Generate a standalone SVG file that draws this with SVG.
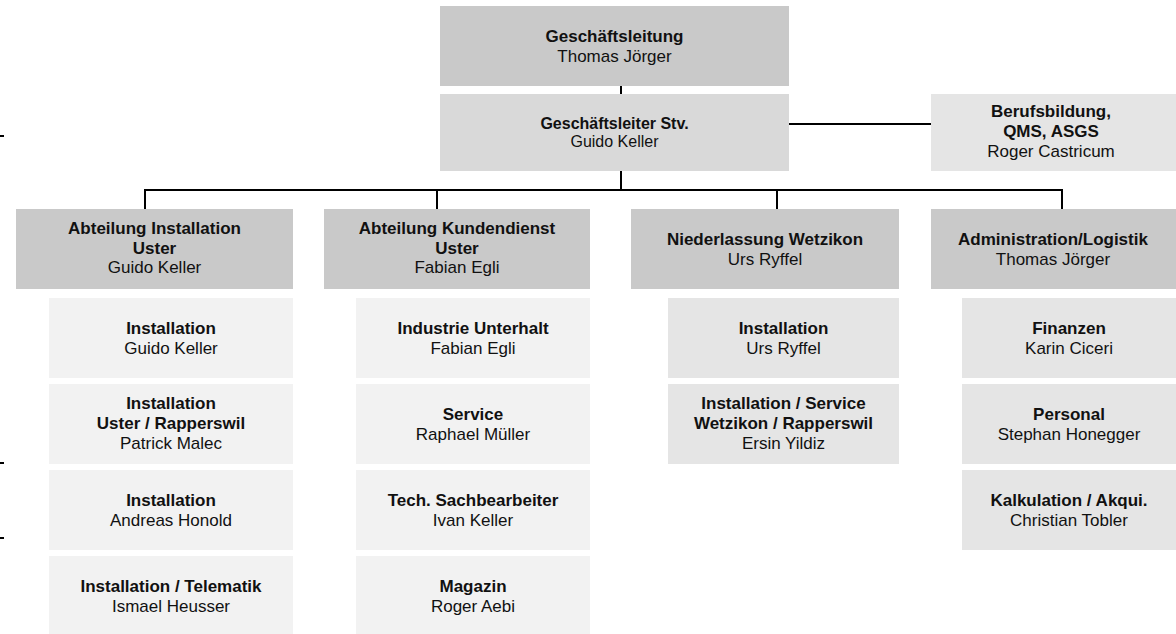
<svg xmlns="http://www.w3.org/2000/svg" width="1176" height="634" viewBox="0 0 1176 634">
<style>
text{font-family:"Liberation Sans",Arial,sans-serif;font-size:17px;fill:#111;text-anchor:middle}
.b{font-weight:bold}
.s{font-size:16px}
.l{stroke:#000;stroke-width:2;fill:none}
.c1{fill:#c9c9c9}
.c2{fill:#d9d9d9}
.c3{fill:#e5e5e5}
.c4{fill:#f2f2f2}
</style>
<rect width="1176" height="634" fill="#fff"/>
<g id="connectors">
<path class="l" d="M621 86V94M621 171V190M789 124H931M145 190H1062M145 189V209M437 189V209M777 189V209M1062 189V209"/>
<path class="l" d="M0 136H4M0 463H4M0 538H4"/>
</g>
<g id="n-gl"><rect class="c1" x="440" y="6" width="349" height="80"/><text class="b" x="614.5" y="42">Geschäftsleitung</text><text x="614.5" y="62">Thomas Jörger</text></g>
<g id="n-stv"><rect class="c2" x="440" y="94" width="349" height="77"/><text class="b s" x="614.5" y="129">Geschäftsleiter Stv.</text><text class="s" x="614.5" y="147">Guido Keller</text></g>
<g id="n-bb"><rect class="c3" x="931" y="94" width="245" height="77"/><text class="b" x="1051" y="117">Berufsbildung,</text><text class="b" x="1051" y="137">QMS, ASGS</text><text x="1051" y="157">Roger Castricum</text></g>

<g id="n-ai"><rect class="c1" x="16" y="209" width="277" height="80"/><text class="b" x="154.5" y="234">Abteilung Installation</text><text class="b" x="154.5" y="253.5">Uster</text><text x="154.5" y="273">Guido Keller</text></g>
<g id="n-ak"><rect class="c1" x="324" y="209" width="266" height="80"/><text class="b" x="457" y="234">Abteilung Kundendienst</text><text class="b" x="457" y="253.5">Uster</text><text x="457" y="273">Fabian Egli</text></g>
<g id="n-nw"><rect class="c1" x="631" y="209" width="268" height="80"/><text class="b" x="765" y="245">Niederlassung Wetzikon</text><text x="765" y="265">Urs Ryffel</text></g>
<g id="n-al"><rect class="c1" x="931" y="209" width="245" height="80"/><text class="b" x="1053" y="245">Administration/Logistik</text><text x="1053" y="265">Thomas Jörger</text></g>

<g id="n-i1"><rect class="c4" x="49" y="298" width="244" height="80"/><text class="b" x="171" y="334">Installation</text><text x="171" y="354">Guido Keller</text></g>
<g id="n-i2"><rect class="c4" x="49" y="384" width="244" height="80"/><text class="b" x="171" y="409">Installation</text><text class="b" x="171" y="429">Uster / Rapperswil</text><text x="171" y="448.5">Patrick Malec</text></g>
<g id="n-i3"><rect class="c4" x="49" y="470" width="244" height="80"/><text class="b" x="171" y="506">Installation</text><text x="171" y="526">Andreas Honold</text></g>
<g id="n-i4"><rect class="c4" x="49" y="556" width="244" height="80"/><text class="b" x="171" y="592">Installation / Telematik</text><text x="171" y="612">Ismael Heusser</text></g>

<g id="n-k1"><rect class="c4" x="356" y="298" width="234" height="80"/><text class="b" x="473" y="334">Industrie Unterhalt</text><text x="473" y="354">Fabian Egli</text></g>
<g id="n-k2"><rect class="c4" x="356" y="384" width="234" height="80"/><text class="b" x="473" y="420">Service</text><text x="473" y="440">Raphael Müller</text></g>
<g id="n-k3"><rect class="c4" x="356" y="470" width="234" height="80"/><text class="b" x="473" y="506">Tech. Sachbearbeiter</text><text x="473" y="526">Ivan Keller</text></g>
<g id="n-k4"><rect class="c4" x="356" y="556" width="234" height="80"/><text class="b" x="473" y="592">Magazin</text><text x="473" y="612">Roger Aebi</text></g>

<g id="n-w1"><rect class="c3" x="668" y="298" width="231" height="80"/><text class="b" x="783.5" y="334">Installation</text><text x="783.5" y="354">Urs Ryffel</text></g>
<g id="n-w2"><rect class="c3" x="668" y="384" width="231" height="80"/><text class="b" x="783.5" y="409">Installation / Service</text><text class="b" x="783.5" y="429">Wetzikon / Rapperswil</text><text x="783.5" y="448.5">Ersin Yildiz</text></g>

<g id="n-a1"><rect class="c3" x="962" y="298" width="214" height="80"/><text class="b" x="1069" y="334">Finanzen</text><text x="1069" y="354">Karin Ciceri</text></g>
<g id="n-a2"><rect class="c3" x="962" y="384" width="214" height="80"/><text class="b" x="1069" y="420">Personal</text><text x="1069" y="440">Stephan Honegger</text></g>
<g id="n-a3"><rect class="c3" x="962" y="470" width="214" height="80"/><text class="b" x="1069" y="506">Kalkulation / Akqui.</text><text x="1069" y="526">Christian Tobler</text></g>
</svg>
